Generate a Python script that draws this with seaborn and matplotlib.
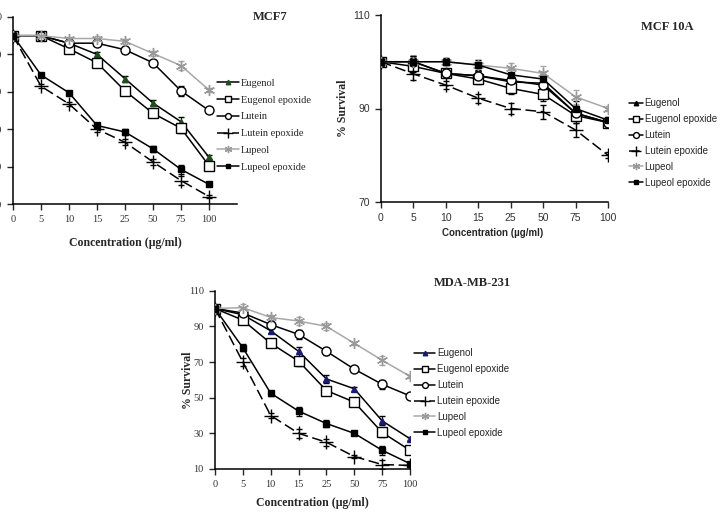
import numpy as np
import matplotlib
matplotlib.use("Agg")
import matplotlib.pyplot as plt
import seaborn as sns

# concentrations (categorical x axis)
conc = ["0", "5", "10", "15", "25", "50", "75", "100"]
names = ["Eugenol", "Eugenol epoxide", "Lutein", "Lutein epoxide", "Lupeol", "Lupeol epoxide"]

# % survival, MCF7
mcf7_eugenol = [100, 100, 96, 90, 77, 64, 54, 35]
mcf7_eugenol_ep = [100, 100, 93, 85.5, 70.5, 58.5, 50.5, 30.5]
mcf7_lutein = [100, 100, 96, 96, 92.5, 85.5, 70.5, 60]
mcf7_lutein_ep = [100, 73, 63.5, 50, 43, 32.5, 22.5, 14]
mcf7_lupeol = [100, 100, 98.5, 98.5, 97, 90.5, 84, 71]
mcf7_lupeol_ep = [100, 79, 69.5, 52, 48.5, 39.5, 28.5, 20.5]
mcf7_err = [0, 1.0, 1.0, 1.5, 1.5, 1.5, 2.5, 1.0]

# % survival, MCF 10A
m10a_eugenol = [100, 100, 97.5, 97, 95.7, 95.4, 89, 87]
m10a_eugenol_ep = [100, 99, 97.5, 96.3, 94.3, 93, 88.5, 87]
m10a_lutein = [100, 100, 97.5, 97, 96, 95, 89, 87]
m10a_lutein_ep = [100, 97.4, 95, 92.2, 90, 89.3, 85.4, 80]
m10a_lupeol = [100, 100, 100, 99.3, 98.6, 97.5, 92.5, 90]
m10a_lupeol_ep = [100, 100, 100, 99.3, 97.2, 96.3, 90, 87.5]
m10a_err = [0, 1.2, 0.8, 1.0, 1.2, 1.5, 1.5, 0.6]

# % survival, MDA-MB-231
mda_eugenol = [100, 96.5, 87.5, 76, 60.5, 55, 37, 27]
mda_eugenol_ep = [100, 93.5, 80.5, 70.5, 54, 47.5, 30.5, 20.5]
mda_lutein = [100, 97.5, 91, 85.5, 76, 66, 57.5, 51]
mda_lutein_ep = [100, 70, 40, 30, 25, 17, 12.5, 12]
mda_lupeol = [100, 100.5, 95, 93, 90, 80.5, 71, 62]
mda_lupeol_ep = [100, 78, 52.5, 42.5, 35.5, 30, 20.5, 13]
mda_err = [0, 2.0, 1.5, 2.5, 2.0, 1.0, 2.5, 1.0]

serif = "Liberation Serif"
sans = "Liberation Sans"

sns.set_style("ticks")
plt.rcParams["font.family"] = [serif, "DejaVu Sans"]

fig = plt.figure(figsize=(7.27, 5.15), dpi=100)
x = np.arange(len(conc))


def styles(tri_color):
    return [
        dict(marker="^", markerfacecolor=tri_color, markeredgecolor=tri_color, color="black", linestyle="-", markersize=5),
        dict(marker="s", markerfacecolor="white", markeredgecolor="black", color="black", linestyle="-", markersize=7),
        dict(marker="o", markerfacecolor="white", markeredgecolor="black", color="black", linestyle="-", markersize=6.5),
        dict(marker="+", markerfacecolor="black", markeredgecolor="black", color="black", linestyle=(0, (7, 3)), markersize=10),
        dict(marker=(6, 2, 0), markerfacecolor="#999999", markeredgecolor="#999999", color="#a8a8a8", linestyle="-", markersize=8),
        dict(marker="s", markerfacecolor="black", markeredgecolor="black", color="black", linestyle="-", markersize=4.5),
    ]


def panel(rect, series, err, ylim, yticks, xmax, title, title_xy, tri_color,
          tick_font, leg_font, leg_size, leg_hl, leg_sp, leg_xy,
          xlab_font, xlab_size, xlab_xy, ylab_xy=None):
    ax = fig.add_axes(rect)
    for name, vals, st in zip(names, series, styles(tri_color)):
        sns.lineplot(x=x, y=vals, ax=ax, label=name, linewidth=1.1,
                     markeredgewidth=1.0, zorder=3, **st)
        ax.errorbar(x, vals, yerr=err, fmt="none", ecolor=st["color"],
                    elinewidth=0.8, capsize=2.5, zorder=2)
    ax.set_xlim(0, xmax)
    ax.set_ylim(*ylim)
    ax.set_xticks(x)
    ax.set_xticklabels(conc, fontfamily=tick_font, fontsize=7.5, color="#333333")
    ax.set_yticks(yticks)
    ax.set_yticklabels([str(t) for t in yticks], fontfamily=tick_font, fontsize=7.5, color="#333333")
    ax.tick_params(direction="out", length=4, width=1, pad=4)
    ax.set_xlabel("")
    ax.set_ylabel("")
    for s in ["top", "right"]:
        ax.spines[s].set_visible(False)
    for s in ["left", "bottom"]:
        ax.spines[s].set_linewidth(1.1)
        ax.spines[s].set_color("black")
    ax.legend(loc="upper left", bbox_to_anchor=leg_xy, bbox_transform=fig.transFigure,
              frameon=False, prop={"family": leg_font, "size": leg_size}, handlelength=leg_hl,
              handletextpad=0.2, labelspacing=leg_sp, borderpad=0, borderaxespad=0,
              markerscale=0.65)
    fig.text(title_xy[0], title_xy[1], title, ha="center", va="center",
             fontfamily=serif, fontweight="bold", fontsize=9)
    fig.text(xlab_xy[0], xlab_xy[1], "Concentration (µg/ml)", ha="center", va="center",
             fontfamily=xlab_font, fontweight="bold", fontsize=xlab_size)
    if ylab_xy is not None:
        fig.text(ylab_xy[0], ylab_xy[1], "% Survival", ha="center", va="center",
                 rotation=90, fontfamily=serif, fontweight="bold", fontsize=8.5)
    return ax


W, H = 727.0, 515.0

panel([13 / W, 1 - 204 / H, 224 / W, 187 / H],
      [mcf7_eugenol, mcf7_eugenol_ep, mcf7_lutein, mcf7_lutein_ep, mcf7_lupeol, mcf7_lupeol_ep],
      mcf7_err, (10, 110), [10, 30, 50, 70, 90, 110], 8, "MCF7", (270 / W, 1 - 17 / H),
      "#1f4d1f", serif, serif, 7.5, 2.1, 0.72, (217 / W, 1 - 78.5 / H),
      serif, 8.5, (125 / W, 1 - 243 / H))

panel([381 / W, 1 - 202 / H, 227 / W, 187 / H],
      [m10a_eugenol, m10a_eugenol_ep, m10a_lutein, m10a_lutein_ep, m10a_lupeol, m10a_lupeol_ep],
      m10a_err, (70, 110), [70, 90, 110], 7, "MCF 10A", (667 / W, 1 - 27 / H),
      "black", sans, sans, 7, 1.4, 0.6, (629 / W, 1 - 98.5 / H),
      sans, 7, (493 / W, 1 - 233 / H), ylab_xy=(343 / W, 1 - 108 / H))

panel([215 / W, 1 - 469 / H, 195 / W, 178.3 / H],
      [mda_eugenol, mda_eugenol_ep, mda_lutein, mda_lutein_ep, mda_lupeol, mda_lupeol_ep],
      mda_err, (10, 110), [10, 30, 50, 70, 90, 110], 7, "MDA-MB-231", (472 / W, 1 - 283 / H),
      "#1a1a70", serif, sans, 7, 2.2, 0.6, (414 / W, 1 - 348.5 / H),
      serif, 8.5, (312 / W, 1 - 503 / H), ylab_xy=(188 / W, 1 - 380 / H))

fig.savefig("out.png", dpi=100)
